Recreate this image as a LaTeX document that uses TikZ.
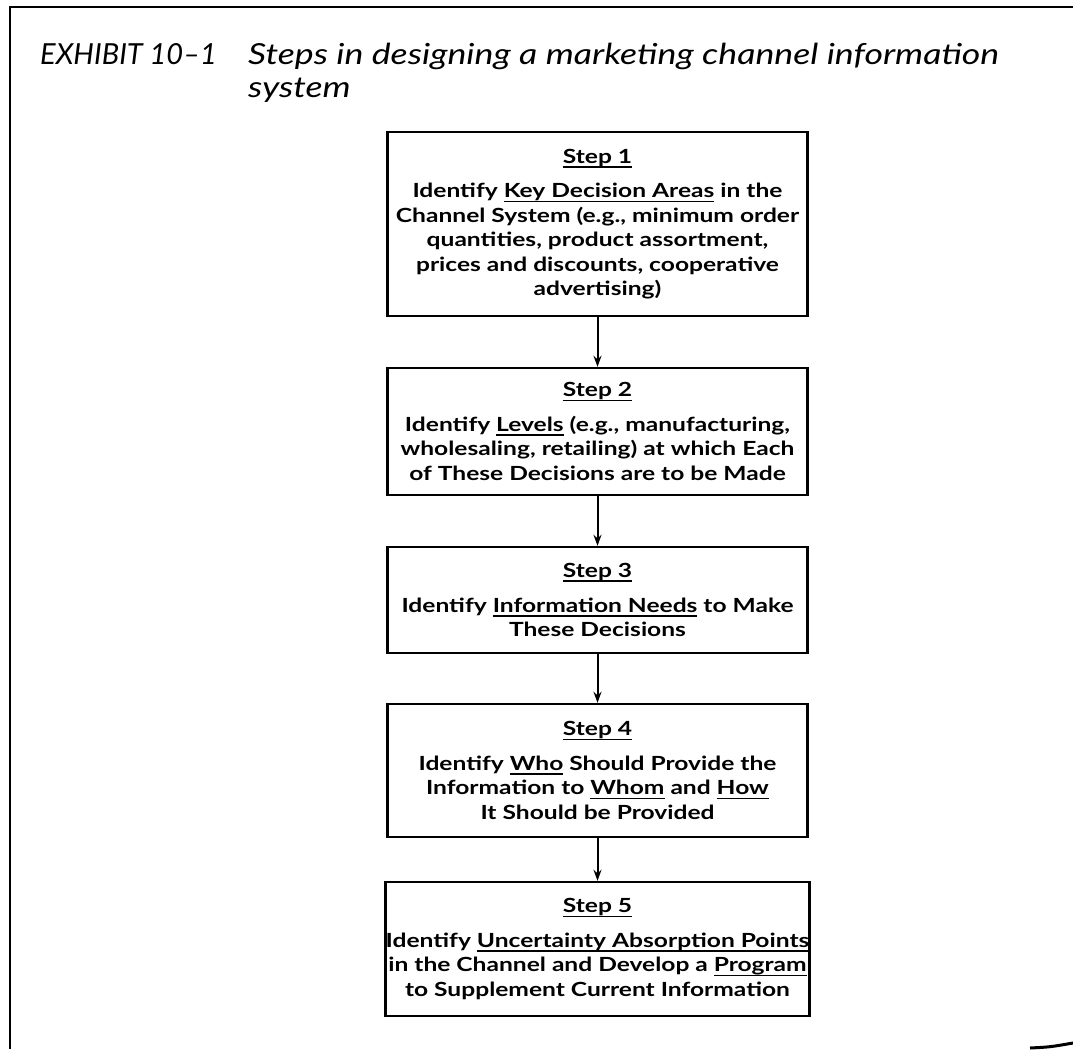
\documentclass[tikz,border=0pt]{standalone}
\usepackage{fontspec}
\setmainfont{Lato}
\newfontfamily\boxfont{Lato}[FakeStretch=1.26]
\newfontfamily\wtitlefont{Lato}[FakeStretch=1.23]
\usetikzlibrary{arrows.meta}
\newcommand\myul[1]{\setbox0\hbox{#1}\rlap{\rule[-4.5pt]{\wd0}{1.6pt}}\box0\relax}
\tikzset{
  stepbox/.style={draw, line width=2.4pt, rectangle, inner sep=0pt, align=center,
    minimum width=420pt, font=\boxfont\fontsize{19.5}{24.5}\selectfont\bfseries},
  flow/.style={line width=2pt, -{Stealth[length=11pt,width=8pt]}},
  frameline/.style={line width=2.6pt},
  titletext/.style={anchor=base west, inner sep=0pt, font=\fontsize{29}{34}\selectfont\itshape},
  wtitletext/.style={anchor=base west, inner sep=0pt, font=\wtitlefont\fontsize{29}{34}\selectfont\itshape}
}
\begin{document}
\begin{tikzpicture}[x=1pt,y=-1pt]
\useasboundingbox (0,0) rectangle (1073,1049);
% frame
\coordinate (fbl) at (10,1049);
\coordinate (ftl) at (10,7);
\coordinate (ftr) at (1073,7);
\draw[frameline] (fbl) -- (ftl) -- (ftr);
\coordinate (ca) at (1030,1048);
\coordinate (cb) at (1073,1043);
\draw[line width=3pt] (ca) .. controls (1050,1047) .. (cb);
% title
\node[titletext] (t1) at (40,64) {EXHIBIT 10--1};
\node[wtitletext] (t2) at (248,64) {Steps in designing a marketing channel information};
\node[wtitletext] (t3) at (248,97) {system};
% boxes
\node[stepbox, minimum height=184pt] (s1) at (597.5,224)
 {\myul{Step 1}\\[10pt]
  Identify \myul{Key Decision Areas} in the\\
  Channel System (e.g., minimum order\\
  quantities, product assortment,\\
  prices and discounts, cooperative\\
  advertising)};
\node[stepbox, minimum height=127pt] (s2) at (597.5,431.5)
 {\myul{Step 2}\\[10pt]
  Identify \myul{Levels} (e.g., manufacturing,\\
  wholesaling, retailing) at which Each\\
  of These Decisions are to be Made};
\node[stepbox, minimum height=106pt] (s3) at (597.5,600)
 {\myul{Step 3}\\[10pt]
  Identify \myul{Information Needs} to Make\\
  These Decisions};
\node[stepbox, minimum height=133pt] (s4) at (597.5,770.5)
 {\myul{Step 4}\\[10pt]
  Identify \myul{Who} Should Provide the\\
  Information to \myul{Whom} and \myul{How}\\
  It Should be Provided};
\node[stepbox, minimum height=134pt] (s5) at (597.5,949)
 {\myul{Step 5}\\[10pt]
  Identify \myul{Uncertainty Absorption Points}\\
  in the Channel and Develop a \myul{Program}\\
  to Supplement Current Information};
% arrows
\draw[flow] (s1.south) -- (s2.north);
\draw[flow] (s2.south) -- (s3.north);
\draw[flow] (s3.south) -- (s4.north);
\draw[flow] (s4.south) -- (s5.north);
\end{tikzpicture}
\end{document}
